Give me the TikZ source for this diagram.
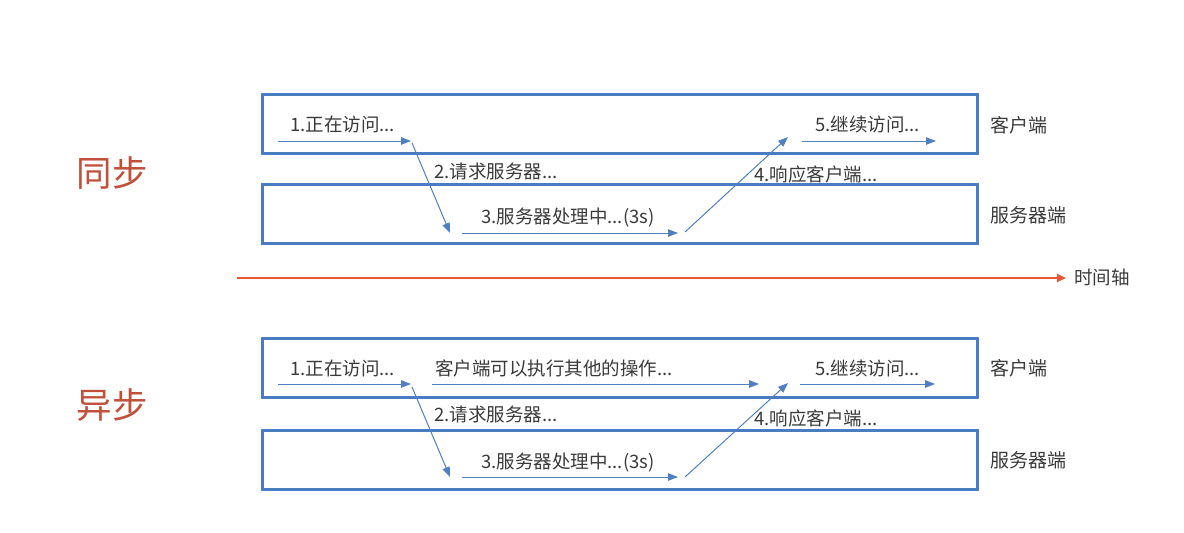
\documentclass[tikz,border=0pt]{standalone}
\usepackage{fontspec}
\newfontfamily\cjk{Noto Sans CJK SC}
\usetikzlibrary{arrows.meta}
\definecolor{boxblue}{HTML}{4A7CC4}
\definecolor{arrblue}{HTML}{4F7FC0}
\definecolor{txtgray}{HTML}{3A3A3A}
\definecolor{titlered}{HTML}{C0503A}
\definecolor{axisred}{HTML}{EB5635}
\tikzset{
  lane/.style={draw=boxblue, line width=3pt, minimum width=715pt, minimum height=59pt, inner sep=0pt},
  flow/.style={draw=arrblue, line width=1pt, -{Triangle[length=10pt,width=7.5pt]}},
  lbl/.style={font=\cjk\fontsize{18.5}{20}\selectfont, text=txtgray, inner sep=0pt},
  side/.style={font=\cjk\fontsize{19}{21}\selectfont, text=txtgray, inner sep=0pt},
  title/.style={font=\cjk\fontsize{35.5}{38}\selectfont, text=titlered, inner sep=0pt},
}
\begin{document}
\begin{tikzpicture}[x=1pt,y=-1pt]
\useasboundingbox (0,0) rectangle (1184,533);
% ---------- synchronous ----------
\node[title] (sync) at (112,173) {同步};
\node[lane] (c1) at (619.5,123.5) {};
\node[lane] (s1) at (619.5,213.5) {};
\node[side] (c1l) at (1019,125) {客户端};
\node[side] (s1l) at (1028,215) {服务器端};
\coordinate (a1s) at (278,141);
\coordinate (a1e) at (411,141);
\coordinate (a2s) at (412,143);
\coordinate (a2e) at (450,233);
\coordinate (a3s) at (462,233);
\coordinate (a3e) at (678,233);
\coordinate (a4s) at (685,232);
\coordinate (a4e) at (788,137);
\coordinate (a5s) at (802,141);
\coordinate (a5e) at (936,141);
\draw[flow] (a1s) -- (a1e);
\draw[flow] (a2s) -- (a2e);
\draw[flow] (a3s) -- (a3e);
\draw[flow] (a4s) -- (a4e);
\draw[flow] (a5s) -- (a5e);
\node[lbl, anchor=west] (t1) at (290,124) {1.正在访问...};
\node[lbl, anchor=west] (t2) at (434,171) {2.请求服务器...};
\node[lbl, anchor=west] (t3) at (481,218) {3.服务器处理中...(3s)};
\node[lbl, anchor=west] (t4) at (754,174) {4.响应客户端...};
\node[lbl, anchor=west] (t5) at (815,124) {5.继续访问...};
% ---------- time axis ----------
\coordinate (ax0) at (237,278);
\coordinate (ax1) at (1066,278);
\draw[axisred, line width=2pt, -{Triangle[length=9pt,width=8pt]}] (ax0) -- (ax1);
\node[font=\cjk\fontsize{18.5}{20}\selectfont, text=txtgray, anchor=west, inner sep=0pt] (axl) at (1074,277) {时间轴};
% ---------- asynchronous ----------
\node[title] (async) at (112,405) {异步};
\node[lane] (c2) at (619.5,367.5) {};
\node[lane] (s2) at (619.5,459.5) {};
\node[side] (c2l) at (1019,368) {客户端};
\node[side] (s2l) at (1028,460) {服务器端};
\coordinate (b1s) at (278,384);
\coordinate (b1e) at (411,384);
\coordinate (b2s) at (412,387);
\coordinate (b2e) at (450,477);
\coordinate (b3s) at (462,477);
\coordinate (b3e) at (678,477);
\coordinate (b4s) at (685,477);
\coordinate (b4e) at (788,383);
\coordinate (b5s) at (800,384);
\coordinate (b5e) at (935,384);
\coordinate (b6s) at (432,384);
\coordinate (b6e) at (759,384);
\draw[flow] (b1s) -- (b1e);
\draw[flow] (b2s) -- (b2e);
\draw[flow] (b3s) -- (b3e);
\draw[flow] (b4s) -- (b4e);
\draw[flow] (b5s) -- (b5e);
\draw[flow] (b6s) -- (b6e);
\node[lbl, anchor=west] (u1) at (290,368) {1.正在访问...};
\node[lbl, anchor=west] (u6) at (435,368) {客户端可以执行其他的操作...};
\node[lbl, anchor=west] (u2) at (434,414) {2.请求服务器...};
\node[lbl, anchor=west] (u3) at (481,463) {3.服务器处理中...(3s)};
\node[lbl, anchor=west] (u4) at (754,418) {4.响应客户端...};
\node[lbl, anchor=west] (u5) at (815,368) {5.继续访问...};
\end{tikzpicture}
\end{document}
